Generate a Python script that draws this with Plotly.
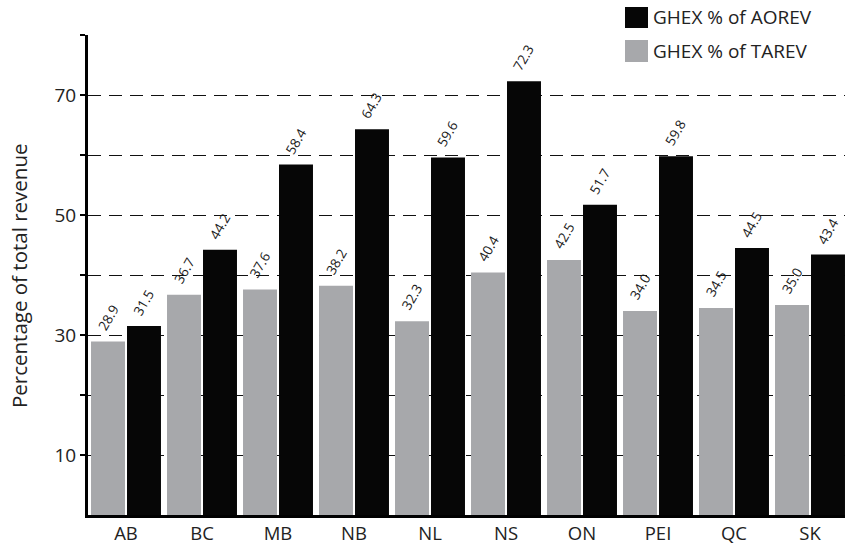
import plotly.graph_objects as go

# Provinces and the two revenue shares (percent)
provinces = ["AB", "BC", "MB", "NB", "NL", "NS", "ON", "PEI", "QC", "SK"]
ghex_tarev = [28.9, 36.7, 37.6, 38.2, 32.3, 40.4, 42.5, 34.0, 34.5, 35.0]
ghex_aorev = [31.5, 44.2, 58.4, 64.3, 59.6, 72.3, 51.7, 59.8, 44.5, 43.4]

y_ticks = [10, 20, 30, 40, 50, 60, 70, 80]
y_tick_text = ["10", "", "30", "", "50", "", "70", ""]

GREY = "#A7A8AB"
BLACK = "#060606"
TEXT = "#222222"
FONT = "Open Sans"

W, H = 845, 547
ML, MR, MT, MB = 88, 0, 35, 32
PW, PH = W - ML - MR, H - MT - MB
CAT_PX = 76           # width of one category slot in pixels
BARGAP = 0.053
HALF_SLOT = CAT_PX * (1 - BARGAP) / 4   # offset of each bar centre from the category centre


def px(x):
    return (x - ML) / PW


def py(y):
    return (H - MB - y) / PH


fig = go.Figure()
series = [("GHEX % of TAREV", ghex_tarev, GREY, -HALF_SLOT),
          ("GHEX % of AOREV", ghex_aorev, BLACK, HALF_SLOT)]
annotations = []
for name, vals, col, shift in series:
    fig.add_trace(go.Bar(
        x=provinces, y=vals, name=name,
        marker=dict(color=col, line=dict(width=0)),
        showlegend=False,
    ))
    # slanted value labels sitting above each bar
    for cat, v in zip(provinces, vals):
        annotations.append(dict(
            x=cat, y=v, xref="x", yref="y", text=f"{v:.1f}",
            textangle=-60, showarrow=False,
            xanchor="center", yanchor="bottom",
            xshift=shift, yshift=5,
            font=dict(family=FONT, size=13.5, color="#1a1a1a"),
        ))

shapes = [
    # white backing for the key so the top gridline breaks behind it
    dict(type="rect", xref="paper", yref="paper", layer="above",
         x0=px(607), x1=px(836), y0=py(70), y1=py(0),
         fillcolor="white", line=dict(width=0)),
    dict(type="rect", xref="paper", yref="paper", layer="above",
         x0=px(625), x1=px(648), y0=py(28), y1=py(7),
         fillcolor=BLACK, line=dict(width=0)),
    dict(type="rect", xref="paper", yref="paper", layer="above",
         x0=px(625), x1=px(648), y0=py(62), y1=py(40),
         fillcolor=GREY, line=dict(width=0)),
]

annotations += [
    dict(text="GHEX % of AOREV", xref="paper", yref="paper",
         x=px(651), y=py(17), xanchor="left", yanchor="middle",
         showarrow=False, font=dict(family=FONT, size=19, color=TEXT)),
    dict(text="GHEX % of TAREV", xref="paper", yref="paper",
         x=px(651), y=py(51), xanchor="left", yanchor="middle",
         showarrow=False, font=dict(family=FONT, size=19, color=TEXT)),
    dict(text="Percentage of total revenue", xref="paper", yref="paper",
         x=px(19), y=py(276), xanchor="center", yanchor="middle",
         textangle=-90, showarrow=False,
         font=dict(family=FONT, size=20.5, color=TEXT)),
]

fig.update_layout(
    width=W, height=H,
    margin=dict(l=ML, r=MR, t=MT, b=MB, pad=0),
    paper_bgcolor="white", plot_bgcolor="white",
    barmode="group", bargap=BARGAP, bargroupgap=0.056,
    shapes=shapes, annotations=annotations,
    xaxis=dict(
        range=[-0.5, -0.5 + PW / CAT_PX],
        showgrid=False, zeroline=False,
        showline=True, linecolor="black", linewidth=3,
        ticks="", tickfont=dict(family=FONT, size=18.5, color=TEXT),
        fixedrange=True,
    ),
    yaxis=dict(
        range=[0, 80], tickvals=y_ticks, ticktext=y_tick_text,
        showgrid=True, gridcolor="#111111", gridwidth=1,
        griddash="13px,8px", zeroline=False,
        showline=True, linecolor="black", linewidth=3,
        ticks="outside", ticklen=5, tickwidth=1.5, tickcolor="black",
        tickfont=dict(family=FONT, size=19, color=TEXT),
        fixedrange=True,
    ),
)

fig.write_html("out.html")
